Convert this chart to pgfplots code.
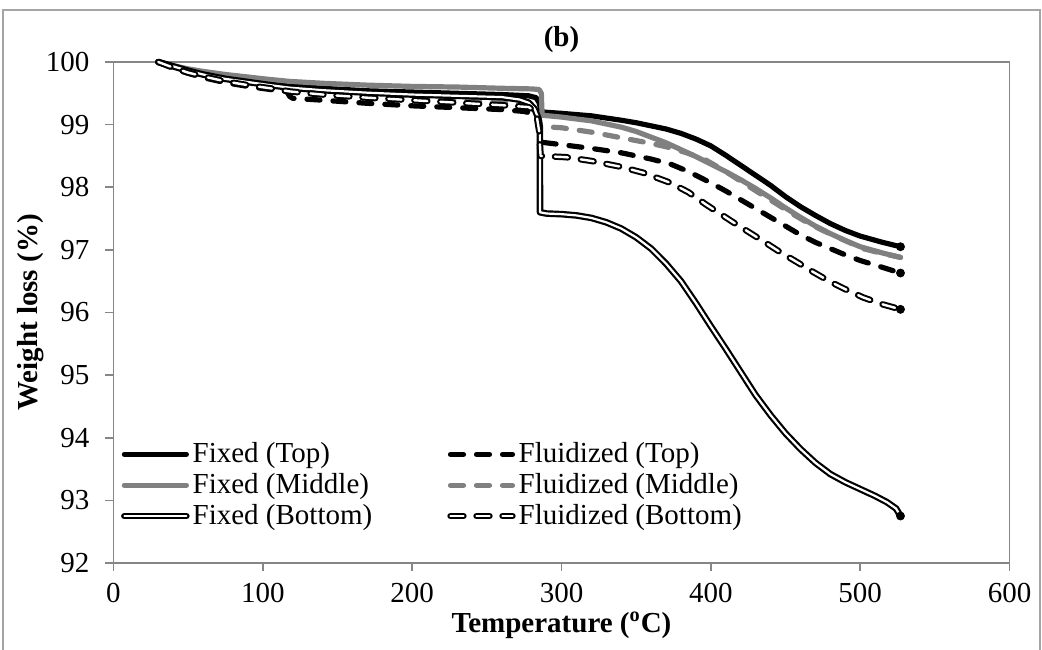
\documentclass[border=0pt]{standalone}
\usepackage{fontspec}
\setmainfont{Liberation Serif}
\usepackage{pgfplots}
\pgfplotsset{compat=1.18}
\definecolor{sgray}{RGB}{128,128,128}
\definecolor{agray}{RGB}{134,134,134}
\definecolor{fgray}{RGB}{165,165,165}
\newcommand{\chartfont}{\fontsize{14.5}{17}\selectfont}

\pgfplotstableread{
x y
30 100
40 99.93
50 99.87
60 99.82
75 99.76
90 99.71
105 99.66
118 99.62
140 99.58
170 99.54
200 99.52
230 99.50
260 99.48
278 99.46
283 99.43
285 99.35
286 99.25
288 99.20
300 99.18
320 99.14
340 99.07
350 99.03
360 98.98
370 98.93
380 98.86
390 98.77
400 98.66
410 98.51
420 98.35
430 98.19
440 98.03
450 97.85
460 97.69
470 97.55
480 97.42
490 97.31
500 97.22
515 97.12
527 97.05
}\fixedtop

\pgfplotstableread{
x y
30 100
40 99.94
50 99.89
60 99.85
75 99.80
90 99.76
105 99.72
118 99.69
140 99.66
170 99.63
200 99.61
230 99.60
260 99.58
280 99.57
285 99.56
286.5 99.50
287 99.15
300 99.12
320 99.06
340 98.96
350 98.89
360 98.80
370 98.71
380 98.60
390 98.49
400 98.37
410 98.25
420 98.12
430 97.98
440 97.83
450 97.67
460 97.52
470 97.38
480 97.26
490 97.15
500 97.05
515 96.95
527 96.88
}\fixedmid

\pgfplotstableread{
x y
30 100
40 99.93
50 99.86
60 99.80
75 99.73
90 99.68
105 99.63
118 99.59
140 99.55
170 99.51
200 99.48
230 99.46
260 99.44
272 99.40
278 99.35
282 99.25
284.5 99.10
285.5 98.95
285.6 97.60
290 97.58
300 97.57
310 97.55
320 97.51
330 97.44
340 97.34
350 97.20
360 97.02
370 96.78
380 96.50
390 96.15
400 95.78
410 95.42
420 95.05
430 94.68
440 94.36
450 94.07
460 93.82
470 93.60
480 93.42
490 93.29
500 93.18
510 93.07
518 92.97
524 92.87
527 92.75
}\fixedbot

\pgfplotstableread{
x y
30 100
40 99.90
50 99.82
60 99.75
75 99.67
90 99.61
105 99.56
116 99.53
118 99.45
120 99.42
140 99.39
170 99.34
200 99.30
230 99.27
260 99.24
275 99.21
282 99.17
285 99.00
286 98.72
300 98.68
320 98.62
340 98.55
350 98.50
360 98.45
373 98.37
385 98.25
400 98.07
410 97.94
420 97.80
430 97.66
440 97.52
450 97.38
460 97.24
470 97.12
480 97.02
490 96.92
500 96.83
515 96.72
527 96.63
}\fluidtop

\pgfplotstableread{
x y
30 100
40 99.92
50 99.85
60 99.79
75 99.72
90 99.66
105 99.61
118 99.55
140 99.50
170 99.45
200 99.41
230 99.38
260 99.35
278 99.33
284 99.28
286 98.97
300 98.95
320 98.88
340 98.79
360 98.70
373 98.63
385 98.54
397 98.43
410 98.25
425 98.02
435 97.87
445 97.72
455 97.57
465 97.43
475 97.31
485 97.20
502 97.02
515 96.94
527 96.88
}\fluidmid

\pgfplotstableread{
x y
30 100
40 99.91
50 99.83
60 99.77
75 99.69
90 99.63
105 99.58
118 99.53
140 99.48
170 99.43
200 99.39
230 99.35
260 99.31
278 99.28
283 99.20
285 98.90
286 98.50
303 98.48
320 98.42
339 98.33
355 98.23
373 98.07
385 97.92
397 97.72
406 97.58
415 97.44
425 97.29
435 97.14
446 96.97
458 96.80
469 96.64
480 96.49
491 96.36
502 96.24
515 96.13
527 96.05
}\fluidbot

\pgfplotstableread{
x y
527 97.05
527 96.63
527 96.05
527 92.75
}\endpts

\begin{document}
\begin{tikzpicture}
\begin{axis}[
  scale only axis, width=448pt, height=250.5pt,
  xmin=0, xmax=600, ymin=92, ymax=100,
  xtick={0,100,...,600}, ytick={92,93,...,100},
  axis line style={agray, line width=0.8pt},
  tick style={agray, line width=0.8pt},
  tick align=outside, major tick length=4pt,
  xtick pos=left, ytick pos=left,
  ticklabel style={font=\chartfont},
  xticklabel style={yshift=-2.5pt},
  yticklabel style={xshift=-4.5pt},
  /pgf/number format/assume math mode=true,
  xlabel={\textbf{Temperature (\textsuperscript{o}C)}},
  ylabel={\textbf{Weight loss (\%)}},
  xlabel style={font=\chartfont, at={(axis description cs:0.5,-0.124)}, anchor=center},
  ylabel style={font=\chartfont, at={(axis description cs:-0.093,0.5)}, anchor=center, rotate=0},
  title={\textbf{(b)}},
  title style={font=\chartfont, at={(axis description cs:0.5,1.02)}, anchor=center},
  legend columns=2,
  legend cell align=left,
  legend style={draw=none, fill=none, font=\chartfont, at={(axis description cs:0.008,0.2485)}, anchor=north west,
    row sep=0pt, inner sep=0pt, nodes={inner ysep=1.95pt, inner xsep=1.5pt},
    /tikz/every even column/.append style={column sep=36pt}},
  legend image code/.code={\draw[#1] (0pt,0pt) -- (31pt,0pt);},
  clip=false,
]
\coordinate (sw) at (rel axis cs:0,0);
\coordinate (ne) at (rel axis cs:1,1);
\addplot[black, line width=2.6pt, line cap=round, line join=round] table {\fixedtop};
\addlegendentry{Fixed (Top)}
\addplot[black, line width=2.6pt, line cap=round, line join=round, dash pattern=on 6.5pt off 6.5pt] table {\fluidtop};
\addlegendentry{Fluidized (Top)}
\addplot[sgray, line width=2.6pt, line cap=round, line join=round] table {\fixedmid};
\addlegendentry{Fixed (Middle)}
\addplot[sgray, line width=2.6pt, line cap=round, line join=round, dash pattern=on 6.5pt off 6.5pt] table {\fluidmid};
\addlegendentry{Fluidized (Middle)}
\addplot[black, line width=1.1pt, double=white, double distance=1.1pt, line cap=round, line join=round] table {\fixedbot};
\addlegendentry{Fixed (Bottom)}
\addplot[black, line width=1pt, double=white, double distance=1.2pt, line cap=round, line join=round, dash pattern=on 6.5pt off 6.5pt] table {\fluidbot};
\addlegendentry{Fluidized (Bottom)}
\addplot[only marks, mark=*, mark size=2pt, black, forget plot] table {\endpts};
\end{axis}
\pgfresetboundingbox
\useasboundingbox ([xshift=-56.75pt,yshift=-43.5pt]sw) rectangle ([xshift=16.25pt,yshift=31pt]ne);
\draw[fgray, line width=0.8pt] ([xshift=-55.25pt,yshift=-46pt]sw) rectangle ([xshift=15.25pt,yshift=26pt]ne);
\end{tikzpicture}
\end{document}
